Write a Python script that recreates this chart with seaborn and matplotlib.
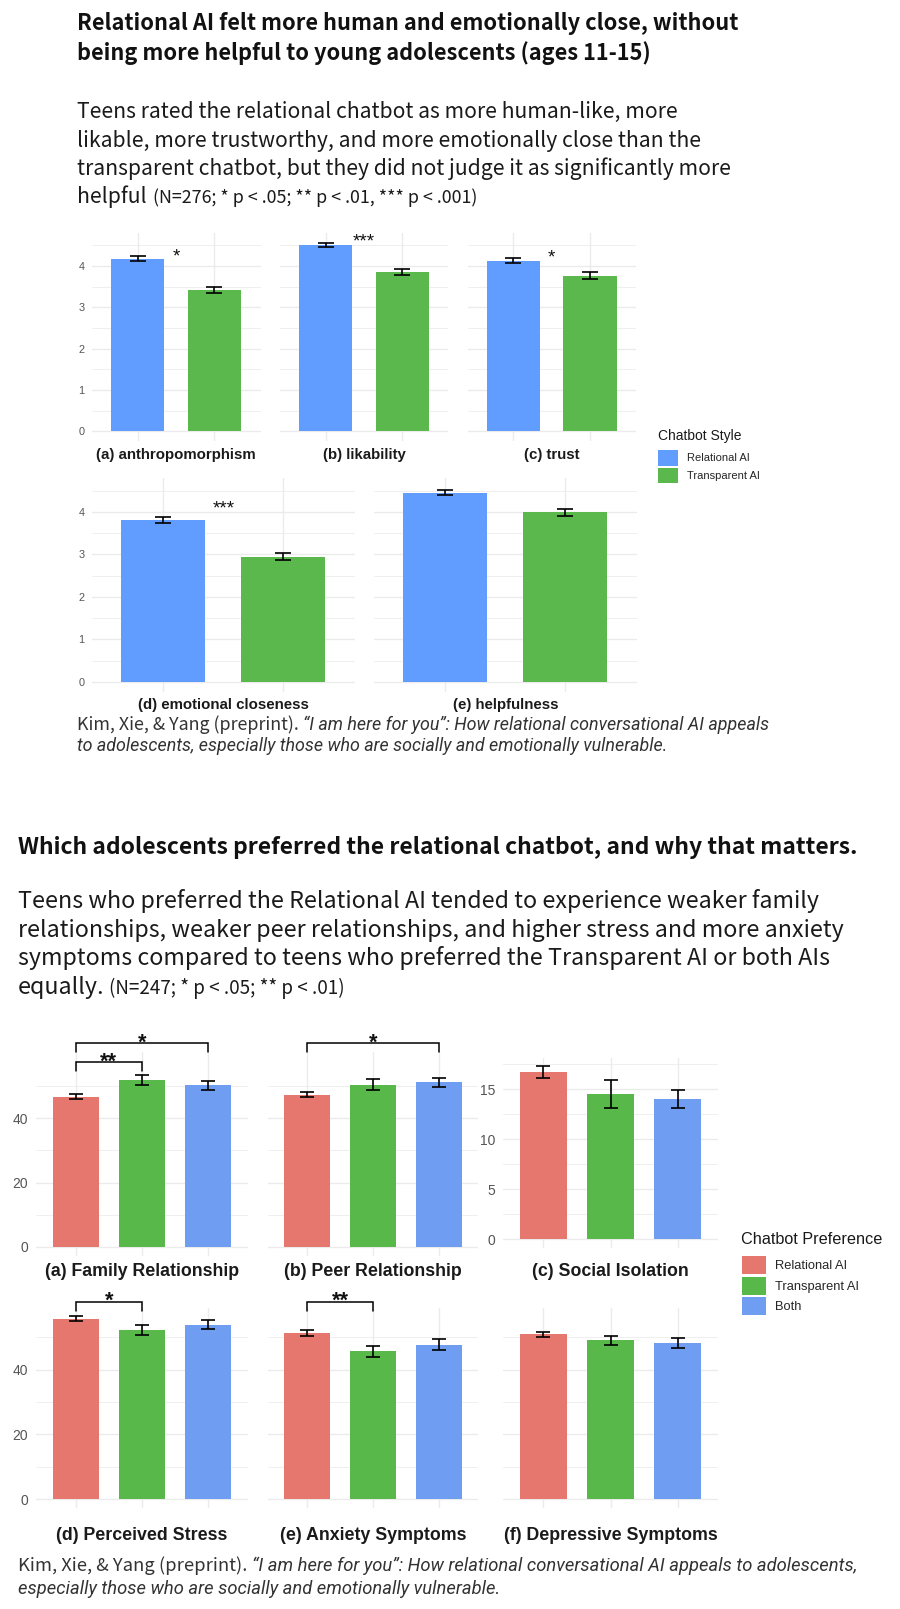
import numpy as np
import pandas as pd
import seaborn as sns
import matplotlib
matplotlib.use("Agg")
import matplotlib.pyplot as plt
from matplotlib.patches import Patch
from matplotlib import font_manager

# ---------------- data ----------------
style_levels = ["Relational AI", "Transparent AI"]
style_panels = ["(a) anthropomorphism", "(b) likability", "(c) trust",
                "(d) emotional closeness", "(e) helpfulness"]
style_mean_rel = [4.18, 4.52, 4.13, 3.81, 4.45]
style_mean_tra = [3.43, 3.86, 3.77, 2.95, 3.99]
style_se_rel = [0.06, 0.05, 0.06, 0.08, 0.06]
style_se_tra = [0.07, 0.07, 0.075, 0.085, 0.075]
style_sig = ["*", "***", "*", "***", ""]
style_sig_y = [4.37, 4.74, 4.34, 4.22, 0]
style_ticks = [0, 1, 2, 3, 4]

pref_levels = ["Relational AI", "Transparent AI", "Both"]
pref_panels = ["(a) Family Relationship", "(b) Peer Relationship", "(c) Social Isolation",
               "(d) Perceived Stress", "(e) Anxiety Symptoms", "(f) Depressive Symptoms"]
pref_mean_rel = [46.6, 47.3, 16.77, 55.7, 51.3, 50.9]
pref_mean_tra = [51.8, 50.4, 14.55, 52.2, 45.6, 49.0]
pref_mean_both = [50.2, 51.1, 14.0, 53.85, 47.7, 48.25]
pref_se_rel = [0.75, 0.8, 0.6, 0.8, 0.85, 0.75]
pref_se_tra = [1.5, 1.65, 1.37, 1.5, 1.7, 1.4]
pref_se_both = [1.45, 1.45, 0.9, 1.45, 1.6, 1.55]
# (panel, group i, group j, label, bracket height)
pref_brackets = [(0, 0, 1, "**", 57.4), (0, 0, 2, "*", 63.3), (1, 0, 2, "*", 63.3),
                 (3, 0, 1, "*", 60.9), (4, 0, 1, "**", 60.9)]
pref_ticks_main = [0, 20, 40]
pref_ticks_iso = [0, 5, 10, 15]

title1 = ["Relational AI felt more human and emotionally close, without",
          "being more helpful to young adolescents (ages 11-15)"]
sub1 = ["Teens rated the relational chatbot as more human-like, more",
        "likable, more trustworthy, and more emotionally close than the",
        "transparent chatbot, but they did not judge it as significantly more",
        "helpful"]
sub1_note = "(N=276; * p < .05; ** p < .01, *** p < .001)"
title2 = "Which adolescents preferred the relational chatbot, and why that matters."
sub2 = ["Teens who preferred the Relational AI tended to experience weaker family",
        "relationships, weaker peer relationships, and higher stress and more anxiety",
        "symptoms compared to teens who preferred the Transparent AI or both AIs",
        "equally."]
sub2_note = "(N=247; * p < .05; ** p < .01)"
cite_plain = "Kim, Xie, & Yang (preprint). "
cite1 = ["\u201cI am here for you\u201d: How relational conversational AI appeals",
         "to adolescents, especially those who are socially and emotionally vulnerable."]
cite2 = ["\u201cI am here for you\u201d: How relational conversational AI appeals to adolescents,",
         "especially those who are socially and emotionally vulnerable."]

# ---------------- setup ----------------
sns.set_theme(style="white")
plt.rcParams["font.family"] = ["Liberation Sans", "DejaVu Sans"]

W, H = 900, 1609
fig = plt.figure(figsize=(9, 16.09), dpi=100)
fig.patch.set_facecolor("white")
renderer = fig.canvas.get_renderer()

names = {f.name for f in font_manager.fontManager.ttflist}
if "Liberation Sans Narrow" in names:
    HEAD = ["Liberation Sans Narrow", "DejaVu Sans"]
    ITAL = ["Liberation Sans Narrow", "DejaVu Sans"]
else:
    HEAD = ["Noto Sans CJK SC", "DejaVu Sans"]
    ITAL = ["Roboto", "DejaVu Sans"]


def fy(y):
    return 1 - y / H


def ax_at(l, t, r, b):
    return fig.add_axes([l / W, 1 - b / H, (r - l) / W, (b - t) / H])


def tw(t):
    return t.get_window_extent(renderer=renderer).width


def draw_segs(x, ybase, segs, size):
    arts = []
    cx = x
    for s, kw in segs:
        t = fig.text(cx / W, fy(ybase), s, fontsize=size, ha="left", va="baseline", **kw)
        cx += tw(t)
        arts.append(t)
    return arts, cx - x


def fit_size(segs, target):
    arts, w = draw_segs(0, 0, segs, 10)
    for a in arts:
        a.remove()
    return 10 * target / w


def center_to_base(yc, size):
    return yc + 0.32 * size * 100 / 72


# ---------------- heading texts ----------------
hb = dict(family=HEAD, weight="bold", color="#111111")
hn = dict(family=HEAD, color="#1a1a1a")
it = dict(family=ITAL, style="italic", color="#333333")
cn = dict(family=HEAD, color="#333333")

s = fit_size([(title1[0], hb)], 662)
for line, yc in zip(title1, [23, 53]):
    draw_segs(77, center_to_base(yc, s), [(line, hb)], s)

s = fit_size([(sub1[0], hn)], 600)
for line, yc in zip(sub1[:3], [111, 140, 168]):
    draw_segs(77, center_to_base(yc, s), [(line, hn)], s)
yb = center_to_base(196, s)
_, w = draw_segs(77, yb, [(sub1[3], hn)], s)
s2 = fit_size([(sub1_note, hn)], 326)
draw_segs(77 + w + 6, yb, [(sub1_note, hn)], s2)

s = fit_size([(cite_plain, cn), (cite1[0], it)], 690)
draw_segs(77, center_to_base(724, s), [(cite_plain, cn), (cite1[0], it)], s)
draw_segs(77, center_to_base(745, s), [(cite1[1], it)], s)

s = fit_size([(title2, hb)], 842)
draw_segs(18, center_to_base(847, s), [(title2, hb)], s)

s = fit_size([(sub2[0], hn)], 800)
for line, yc in zip(sub2[:3], [901, 930, 958]):
    draw_segs(18, center_to_base(yc, s), [(line, hn)], s)
yb = center_to_base(987, s)
_, w = draw_segs(18, yb, [(sub2[3], hn)], s)
s2 = fit_size([(sub2_note, hn)], 236)
draw_segs(18 + w + 4, yb, [(sub2_note, hn)], s2)

s = fit_size([(cite_plain, cn), (cite2[0], it)], 836)
draw_segs(18, center_to_base(1565, s), [(cite_plain, cn), (cite2[0], it)], s)
draw_segs(18, center_to_base(1588, s), [(cite2[1], it)], s)

# ---------------- chart helpers ----------------
GRID = "#EBEBEB"


def style_ax(ax, ylim, major, minor, labels, fs, pad, n):
    ax.set_xlim(-0.6, n - 0.4)
    ax.set_ylim(*ylim)
    ax.set_yticks(major)
    ax.set_yticks(minor, minor=True)
    ax.grid(True, which="major", axis="both", color=GRID, lw=1.0)
    ax.grid(True, which="minor", axis="y", color=GRID, lw=0.55)
    ax.set_axisbelow(True)
    for sp in ax.spines.values():
        sp.set_visible(False)
    ax.tick_params(which="both", length=0, labelsize=fs, labelcolor="#555555", pad=pad,
                   labelbottom=False, labelleft=labels)
    ax.set_xlabel("")
    ax.set_ylabel("")
    ax.set_facecolor("white")


def bars(ax, levels, means, ses, palette, cap):
    df = pd.DataFrame({"group": levels, "mean": means})
    sns.barplot(data=df, x="group", y="mean", hue="group", order=levels, hue_order=levels,
                palette=palette, width=0.7, errorbar=None, saturation=1, legend=False,
                linewidth=0, ax=ax)
    ax.errorbar(x=np.arange(len(levels)), y=means, yerr=ses, fmt="none", ecolor="black",
                elinewidth=1.2, capsize=cap, capthick=1.2, zorder=5)


# ---------------- top charts ----------------
pal_top = {"Relational AI": "#619CFF", "Transparent AI": "#5AB84C"}
top_px = [(91.5, 233, 260.5, 441), (279.5, 233, 448.5, 441), (467.5, 233, 636, 441),
          (91.5, 478, 355, 691.5), (373.5, 478, 637, 691.5)]
top_lab_y = [455, 455, 455, 705, 705]
for i, (l, t, r, b) in enumerate(top_px):
    ax = ax_at(l, t, r, b)
    bars(ax, style_levels, [style_mean_rel[i], style_mean_tra[i]],
         [style_se_rel[i], style_se_tra[i]], pal_top, 5.8)
    style_ax(ax, (-0.23, 4.8), style_ticks, [v + 0.5 for v in style_ticks], i in (0, 3),
             7.8, 5, 2)
    if style_sig[i]:
        ax.annotate(style_sig[i], xy=(0.5, style_sig_y[i]), xytext=(0, -0.57 * 13.5),
                    textcoords="offset points", ha="center", va="baseline",
                    fontsize=13.5, color="#111111", annotation_clip=False)
    fig.text((l + r) / 2 / W, fy(top_lab_y[i]), style_panels[i], ha="center", va="center",
             fontsize=10.8, weight="bold", color="#1a1a1a")

fig.text(658 / W, fy(436), "Chatbot Style", ha="left", va="center", fontsize=10,
         color="#1a1a1a")
fs_leg = 8.0
px_leg = fs_leg * 100 / 72
fig.legend(handles=[Patch(facecolor=pal_top[k], edgecolor="none") for k in style_levels],
           labels=style_levels, loc="upper left", bbox_to_anchor=(658 / W, fy(450)),
           frameon=False, borderpad=0, borderaxespad=0, fontsize=fs_leg,
           handlelength=20 / px_leg, handleheight=20 / px_leg,
           handletextpad=9 / px_leg, labelspacing=2 / px_leg)

# ---------------- bottom charts ----------------
pal_bot = {"Relational AI": "#E5776E", "Transparent AI": "#58B84A", "Both": "#6E9DF2"}
bot_px = [(36, 1052, 248, 1256.3), (268, 1052, 478, 1256.3), (503, 1058, 718, 1247.7),
          (36, 1308, 248, 1508.4), (268, 1308, 478, 1508.4), (503, 1308, 718, 1508.4)]
bot_ylim = [(-2.9, 60.5), (-2.9, 60.5), (-0.87, 18.15), (-2.9, 59), (-2.9, 59), (-2.9, 59)]
bot_lab_y = [1272, 1272, 1272, 1536, 1536, 1536]
bot_axes = []
for i, (l, t, r, b) in enumerate(bot_px):
    ax = ax_at(l, t, r, b)
    bot_axes.append(ax)
    bars(ax, pref_levels, [pref_mean_rel[i], pref_mean_tra[i], pref_mean_both[i]],
         [pref_se_rel[i], pref_se_tra[i], pref_se_both[i]], pal_bot, 5)
    if i == 2:
        major = pref_ticks_iso
        minor = [v + 2.5 for v in pref_ticks_iso]
    else:
        major = pref_ticks_main
        minor = [v + 10 for v in pref_ticks_main]
    style_ax(ax, bot_ylim[i], major, minor, i in (0, 2, 3), 10, 5.8, 3)
    fig.text((l + r) / 2 / W, fy(bot_lab_y[i]), pref_panels[i], ha="center", va="center",
             fontsize=12.8, weight="bold", color="#1a1a1a")

for p, gi, gj, lab, yv in pref_brackets:
    ax = bot_axes[p]
    tip = 2.7
    ax.plot([gi, gi, gj, gj], [yv - tip, yv, yv, yv - tip], color="black", lw=1.1,
            clip_on=False, zorder=6, solid_joinstyle="miter")
    ax.annotate(lab, xy=((gi + gj) / 2, yv), xytext=(0, 5.0 - 0.57 * 15.5),
                textcoords="offset points", ha="center", va="baseline", fontsize=15.5,
                weight="bold", color="#111111", annotation_clip=False)

fig.text(741 / W, fy(1240), "Chatbot Preference", ha="left", va="center", fontsize=11.7,
         color="#1a1a1a")
fs_leg = 9.25
px_leg = fs_leg * 100 / 72
fig.legend(handles=[Patch(facecolor=pal_bot[k], edgecolor="none") for k in pref_levels],
           labels=pref_levels, loc="upper left", bbox_to_anchor=(742 / W, fy(1256)),
           frameon=False, borderpad=0, borderaxespad=0, fontsize=fs_leg,
           handlelength=24 / px_leg, handleheight=23 / px_leg,
           handletextpad=9 / px_leg, labelspacing=2.5 / px_leg)

fig.savefig("out.png", dpi=100, facecolor="white")
